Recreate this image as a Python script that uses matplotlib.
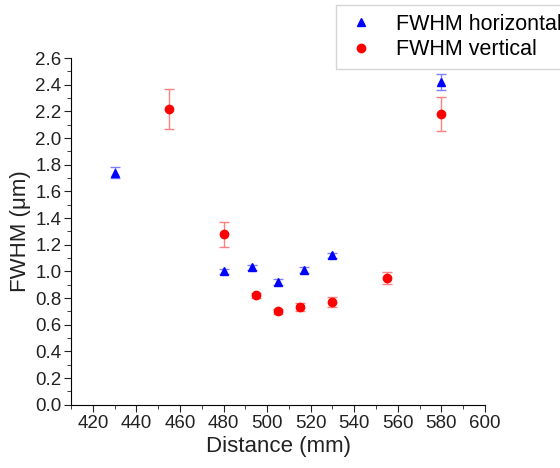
import numpy as np
import matplotlib.pyplot as plt
from matplotlib.ticker import MultipleLocator

plt.rcParams['font.family'] = ['Liberation Sans', 'DejaVu Sans']

# FWHM horizontal
dist_h = [430, 480, 493, 505, 517, 530, 580]
fwhm_h = [1.74, 1.00, 1.03, 0.92, 1.01, 1.12, 2.42]
err_h = [0.04, 0.02, 0.02, 0.02, 0.02, 0.02, 0.06]

# FWHM vertical
dist_v = [455, 480, 495, 505, 515, 530, 555, 580]
fwhm_v = [2.22, 1.28, 0.82, 0.70, 0.73, 0.77, 0.95, 2.18]
err_v = [0.15, 0.094, 0.02, 0.02, 0.03, 0.04, 0.045, 0.125]

fig = plt.figure(figsize=(5.6, 4.68), dpi=100)
ax = fig.add_axes([0.127, 0.135, 0.739, 0.741])

ax.errorbar(dist_h, fwhm_h, yerr=err_h, fmt='none', ecolor='#8080ff',
            elinewidth=1, capsize=3.5, capthick=1)
ax.errorbar(dist_v, fwhm_v, yerr=err_v, fmt='none', ecolor='#ff8080',
            elinewidth=1, capsize=3.5, capthick=1)
ax.plot(dist_h, fwhm_h, '^', color='#0000ff', markersize=6, label='FWHM horizontal')
ax.plot(dist_v, fwhm_v, 'o', color='#ff0000', markersize=6, label='FWHM vertical')

ax.set_xlim(410, 600)
ax.set_ylim(0, 2.6)
ax.xaxis.set_major_locator(MultipleLocator(20))
ax.xaxis.set_minor_locator(MultipleLocator(10))
ax.yaxis.set_major_locator(MultipleLocator(0.2))
ax.yaxis.set_minor_locator(MultipleLocator(0.1))
ax.yaxis.set_major_formatter(plt.FormatStrFormatter('%.1f'))

for s in ['top', 'right']:
    ax.spines[s].set_visible(False)
ax.tick_params(which='major', direction='out', length=5, labelsize=13.5,
               colors='#222222', pad=2)
ax.tick_params(which='minor', direction='out', length=3, colors='#222222')

ax.set_xlabel('Distance (mm)', fontsize=16, color='#222222', labelpad=3)
ax.set_ylabel('FWHM (\u03bcm)', fontsize=16, color='#222222', labelpad=3)

leg = ax.legend(loc='upper left', bbox_to_anchor=(336 / 560, 1 - 5 / 468),
                bbox_transform=fig.transFigure, fontsize=15.5, fancybox=False,
                edgecolor='#cccccc', handletextpad=0.9, borderpad=0.4,
                labelspacing=0.22, handlelength=1.5, borderaxespad=0)

fig.savefig('out.png', dpi=100)
